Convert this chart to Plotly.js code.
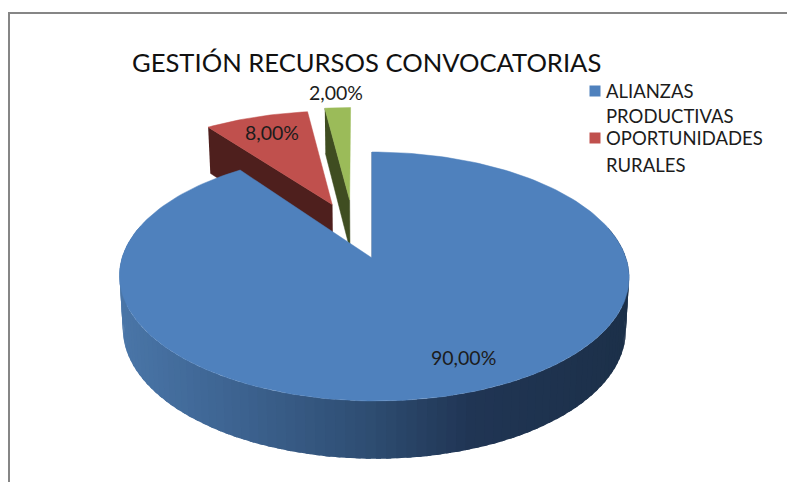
<!DOCTYPE html>
<html><head><meta charset="utf-8">
<script src="https://cdn.plot.ly/plotly-3.0.1.min.js"></script>
<style>html,body{margin:0;padding:0;background:#fff}#c{width:787px;height:482px}</style>
</head><body><div id="c"></div>
<script>
// ---- data ----
const chartTitle = 'GESTIÓN RECURSOS CONVOCATORIAS';
const categories = ['ALIANZAS PRODUCTIVAS', 'OPORTUNIDADES RURALES', ''];
const values = [90, 8, 2];
const legendLines = [['ALIANZAS', 'PRODUCTIVAS'], ['OPORTUNIDADES', 'RURALES']];
const topColors = ['#4f81bd', '#c0504d', '#9bbb59'];
const sideColors = ['#2e4d72', '#4e1f1d', '#3f4d21'];

// ---- projection of the tilted pie into pixel-like axis units ----
const cx = 372, cy = 258, kP = 0.1486, aP = 121.75, bP = 252;
const explode = [[0, 0], [-0.186, 0.47], [-0.104, 0.513]];
const apexNudge = [0, 4, 2];
const depth = Y => 52 / (1 + 0.1 * Y);
function proj(X, Y, rr, low) {
  const d = 1 + kP * Y;
  let x = cx + bP * X / d + 2 * (rr - Y * (rr ? 1 : 0));
  let y = cy - aP * Y / d;
  if (low) { x = 374 + (x - 374) * 0.987; y += depth(Y); }
  return [x, y];
}
const total = values.reduce((a, b) => a + b, 0);
let acc = 0;
const slices = values.map((v, i) => { const s = acc; acc += v; return {i, from: s / total * 360, to: acc / total * 360}; });
const rad = d => d * Math.PI / 180;
function rim(slice, deg, low) {
  const [ox, oy] = explode[slice];
  const X = ox + Math.sin(rad(deg)), Y = oy + Math.cos(rad(deg));
  return slice === 0 ? proj(X, Y, 1, low) : proj(X, Y, 0, low);
}
function apex(slice, low) {
  const [ox, oy] = explode[slice];
  const p = proj(ox, oy, 0, low);
  return [p[0] + apexNudge[slice], p[1]];
}

function poly(points, color, lineW) {
  return {type: 'scatter', mode: lineW === 0 ? 'none' : 'lines', x: points.map(p => p[0]), y: points.map(p => p[1]),
    fill: 'toself', fillcolor: color, line: {color: color, width: lineW || 0.5}, hoverinfo: 'skip', showlegend: false};
}
function topFace(s) {
  const pts = [apex(s.i)];
  const n = Math.max(6, Math.round((s.to - s.from) / 1.5));
  for (let j = 0; j <= n; j++) pts.push(rim(s.i, s.from + (s.to - s.from) * j / n));
  pts.push(apex(s.i));
  return poly(pts, topColors[s.i]);
}
function cutFace(s) { // the visible cut wall on the slice's left edge
  return poly([rim(s.i, s.from), apex(s.i), apex(s.i, true), rim(s.i, s.from, true)], sideColors[s.i], 0.5);
}
// blue outer wall: gradient stops by horizontal position
const stops = [[0, [74, 118, 168]], [0.25, [60, 98, 143]], [0.5, [46, 77, 114]], [0.7, [32, 53, 84]], [1, [28, 48, 73]]];
function gradient(t) {
  t = Math.max(0, Math.min(1, t));
  for (let j = 1; j < stops.length; j++) if (t <= stops[j][0]) {
    const a = stops[j - 1], b = stops[j], f = (t - a[0]) / (b[0] - a[0]);
    const c = a[1].map((v, k) => Math.round(v + (b[1][k] - v) * f));
    return `rgb(${c[0]},${c[1]},${c[2]})`;
  }
  return 'rgb(28,48,73)';
}
const traces = [];
// green, red, then blue (painter's order, back to front)
[slices[2], slices[1]].forEach(s => { traces.push(cutFace(s)); traces.push(topFace(s)); });
const step = 2;
// wall strips, each overlapping the next so no seam shows
for (let d = 283; d >= 75; d -= step) {
  const hi = d + step * 1.5;
  const pts = [];
  for (let q = d; q <= hi + 0.01; q += step * 0.5) pts.push(rim(0, q));
  for (let q = hi; q >= d - 0.01; q -= step * 0.5) pts.push(rim(0, q, true));
  traces.push(poly(pts, gradient((rim(0, d + step / 2)[0] - 119) / 510), 0));
}
const seam = poly([apex(0), rim(0, 0)], '#3c5f88', 1);
seam.fill = 'none';
traces.push(seam);
traces.push(topFace(slices[0]));

// legend swatches as markers
const legendX = 595, legendTextX = 606, legendY = [[91, 116], [138, 165]];
traces.push({type: 'scatter', mode: 'markers', x: [legendX, legendX], y: [legendY[0][0], legendY[1][0]],
  marker: {symbol: 'square', size: 11, color: topColors.slice(0, 2)}, hoverinfo: 'skip', showlegend: false});

const fmt = v => v.toFixed(2).replace('.', ',') + '%';
const font = 'Lato, Carlito, sans-serif';
const labelPos = [[463, 357], [272, 132], [336, 92]];
const annotations = values.map((v, i) => ({x: labelPos[i][0], y: labelPos[i][1], xref: 'x', yref: 'y', text: fmt(v),
  showarrow: false, xanchor: 'center', yanchor: 'middle', font: {family: font, size: 19.5, color: '#1c1c1c'}}));
legendLines.forEach((lines, i) => lines.forEach((t, j) => annotations.push({x: legendTextX, y: legendY[i][j], xref: 'x', yref: 'y',
  text: t, showarrow: false, xanchor: 'left', yanchor: 'middle', xshift: -2, font: {family: font, size: 18.5, color: '#1c1c1c'}})));
annotations.push({x: 366.5, y: 62, xref: 'x', yref: 'y', text: chartTitle, showarrow: false, xanchor: 'center', yanchor: 'middle',
  font: {family: font, size: 25.6, color: '#111111'}});

const layout = {
  width: 787, height: 482, margin: {l: 0, r: 0, t: 0, b: 0}, paper_bgcolor: '#fff', plot_bgcolor: '#fff', showlegend: false,
  xaxis: {range: [0, 787], visible: false, fixedrange: true},
  yaxis: {range: [482, 0], visible: false, fixedrange: true},
  shapes: [{type: 'rect', xref: 'x', yref: 'y', x0: 9, y0: 13, x1: 900, y1: 600, line: {color: '#868686', width: 2}, layer: 'below'}],
  annotations
};
Plotly.newPlot('c', traces, layout, {displayModeBar: false, staticPlot: true});
</script></body></html>
